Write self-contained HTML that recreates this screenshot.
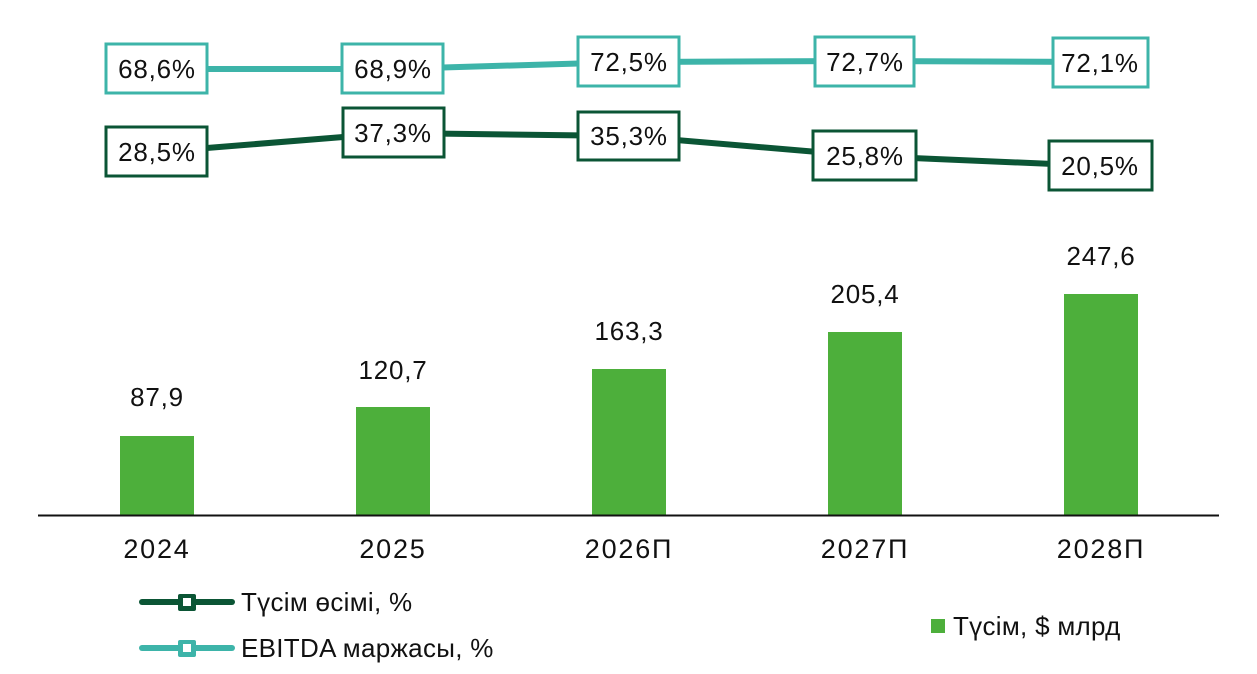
<!DOCTYPE html>
<html><head><meta charset="utf-8"><style>
html,body{margin:0;padding:0;background:#fff;}
svg{display:block;font-family:"Liberation Sans","DejaVu Sans",sans-serif;}
</style></head><body>
<svg width="1257" height="674" viewBox="0 0 1257 674" xmlns="http://www.w3.org/2000/svg">
<g fill="#4daf3b">
<rect x="120" y="436" width="74" height="79"/>
<rect x="356" y="407" width="74" height="108"/>
<rect x="592" y="369" width="74" height="146"/>
<rect x="828" y="332" width="74" height="183"/>
<rect x="1064" y="294" width="74" height="221"/>
</g>
<line x1="38" y1="515.5" x2="1219" y2="515.5" stroke="#111" stroke-width="2"/>
<g font-size="26" fill="#111" text-anchor="middle" letter-spacing="0.8">
<text x="157" y="406">87,9</text>
<text x="393" y="379">120,7</text>
<text x="629" y="340">163,3</text>
<text x="865" y="303">205,4</text>
<text x="1101" y="265">247,6</text>
</g>
<g font-size="27" fill="#111" text-anchor="middle" letter-spacing="1.8">
<text x="157" y="558">2024</text>
<text x="393" y="558">2025</text>
<text x="629" y="558">2026П</text>
<text x="865" y="558">2027П</text>
<text x="1101" y="558">2028П</text>
</g>
<polyline points="157,69 393,69 629,62 865,61 1100,62" fill="none" stroke="#3db4a9" stroke-width="6"/>
<g fill="#fff" stroke="#3db4a9" stroke-width="3">
<rect x="106" y="44" width="101" height="49"/>
<rect x="342" y="44" width="101" height="49"/>
<rect x="578" y="37" width="101" height="49"/>
<rect x="815" y="37" width="99" height="49"/>
<rect x="1053" y="38" width="95" height="49"/>
</g>
<polyline points="157,152 393,133 629,136 865,156 1100,166" fill="none" stroke="#0b5535" stroke-width="6"/>
<g fill="#fff" stroke="#0b5535" stroke-width="3">
<rect x="106" y="127" width="101" height="49"/>
<rect x="343" y="108" width="101" height="49"/>
<rect x="578" y="112" width="101" height="48"/>
<rect x="813" y="131" width="103" height="49"/>
<rect x="1049" y="141" width="103" height="49"/>
</g>
<g font-size="26" fill="#111" text-anchor="middle" letter-spacing="0.8">
<text x="157" y="78">68,6%</text>
<text x="393" y="78">68,9%</text>
<text x="629" y="71">72,5%</text>
<text x="865" y="71">72,7%</text>
<text x="1100" y="72">72,1%</text>
<text x="157" y="161">28,5%</text>
<text x="393" y="142">37,3%</text>
<text x="629" y="145">35,3%</text>
<text x="865" y="165">25,8%</text>
<text x="1100" y="175">20,5%</text>
</g>
<line x1="142" y1="602" x2="232" y2="602" stroke="#0b5535" stroke-width="6" stroke-linecap="round"/>
<rect x="178" y="594" width="18" height="17" fill="#0b5535" rx="2"/>
<rect x="183" y="598" width="8" height="8" fill="#fff"/>
<line x1="142" y1="648" x2="232" y2="648" stroke="#3db4a9" stroke-width="6" stroke-linecap="round"/>
<rect x="178" y="640" width="18" height="17" fill="#3db4a9" rx="2"/>
<rect x="183" y="644" width="8" height="8" fill="#fff"/>
<g font-size="26" fill="#111" letter-spacing="0.3">
<text x="241" y="611">Түсім өсімі, %</text>
<text x="241" y="657">EBITDA маржасы, %</text>
<text x="953" y="635">Түсім, $ млрд</text>
</g>
<rect x="931" y="619" width="14" height="14" fill="#4daf3b"/>
</svg>
</body></html>
